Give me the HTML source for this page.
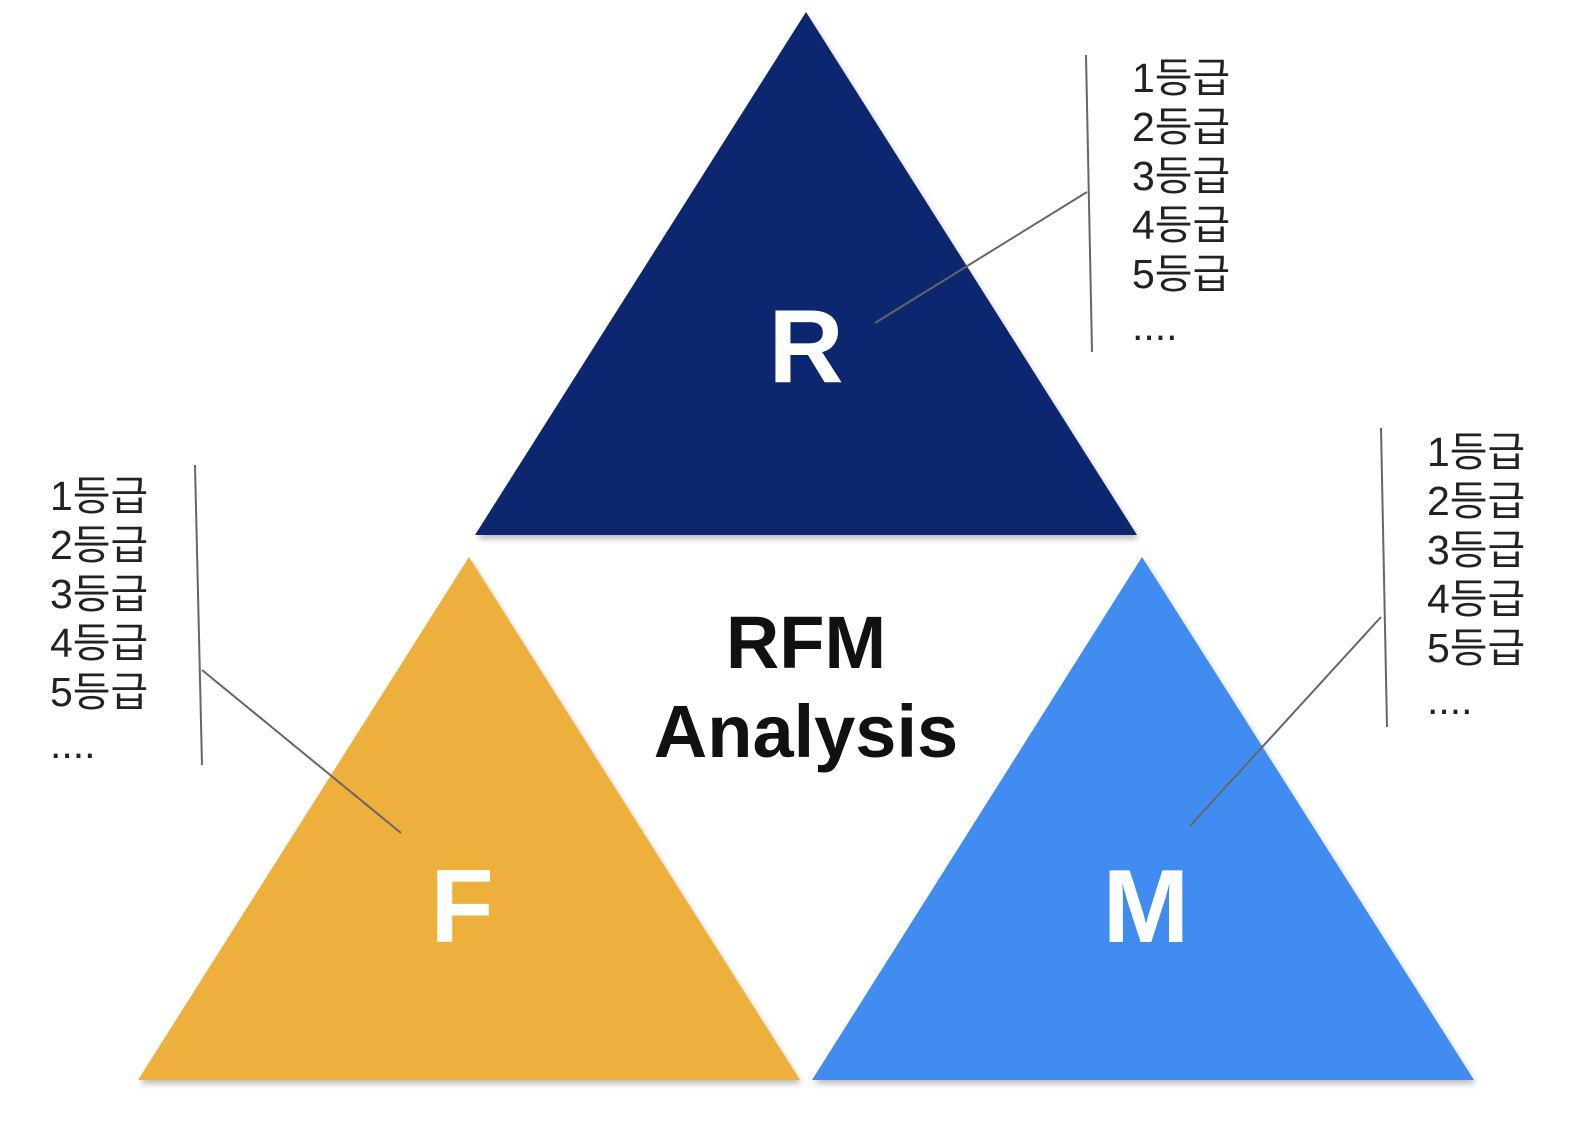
<!DOCTYPE html>
<html><head><meta charset="utf-8"><style>
html,body{margin:0;padding:0;background:#fff;}
svg{display:block}
.k{font-family:"Liberation Sans","Noto Sans CJK KR","NanumGothic",sans-serif;font-size:41px;fill:#222;}
.b{font-family:"Liberation Sans",sans-serif;font-weight:bold;}
</style></head><body>
<svg width="1588" height="1138" viewBox="0 0 1588 1138" xmlns="http://www.w3.org/2000/svg">
<defs><filter id="s" x="-10%" y="-10%" width="120%" height="120%"><feDropShadow dx="2" dy="4" stdDeviation="3" flood-color="#000" flood-opacity="0.25"/></filter></defs>
<polygon points="806,12 1137,535 475,535" fill="#0f2570" filter="url(#s)"/>
<polygon points="469,557 800,1080 138,1080" fill="#eeb03c" filter="url(#s)"/>
<polygon points="1142,557 1474,1080 812,1080" fill="#418cf0" filter="url(#s)"/>
<g stroke="#666" stroke-width="2" fill="none">
<line x1="1086" y1="55" x2="1092" y2="352"/><line x1="875" y1="323" x2="1087" y2="192"/>
<line x1="195" y1="465" x2="202" y2="765"/><line x1="202" y1="670" x2="401" y2="833"/>
<line x1="1381" y1="428" x2="1387" y2="727"/><line x1="1381" y1="617" x2="1190" y2="826"/>
</g>
<text x="806" y="382" text-anchor="middle" class="b" font-size="104" fill="#fff">R</text>
<text x="462" y="942" text-anchor="middle" class="b" font-size="104" fill="#fff">F</text>
<text x="1146" y="942" text-anchor="middle" class="b" font-size="104" fill="#fff">M</text>
<text x="806" y="668" text-anchor="middle" class="b" font-size="74" fill="#111">RFM</text>
<text x="806" y="757" text-anchor="middle" class="b" font-size="74" fill="#111">Analysis</text>
<g class="k">
<text x="1132" y="92">1등급</text><text x="1132" y="141">2등급</text><text x="1132" y="190">3등급</text><text x="1132" y="239">4등급</text><text x="1132" y="288">5등급</text><text x="1132" y="340">....</text>
<text x="50" y="510">1등급</text><text x="50" y="559">2등급</text><text x="50" y="608">3등급</text><text x="50" y="657">4등급</text><text x="50" y="706">5등급</text><text x="50" y="758">....</text>
<text x="1427" y="466">1등급</text><text x="1427" y="515">2등급</text><text x="1427" y="564">3등급</text><text x="1427" y="613">4등급</text><text x="1427" y="662">5등급</text><text x="1427" y="714">....</text>
</g>
</svg>
</body></html>
